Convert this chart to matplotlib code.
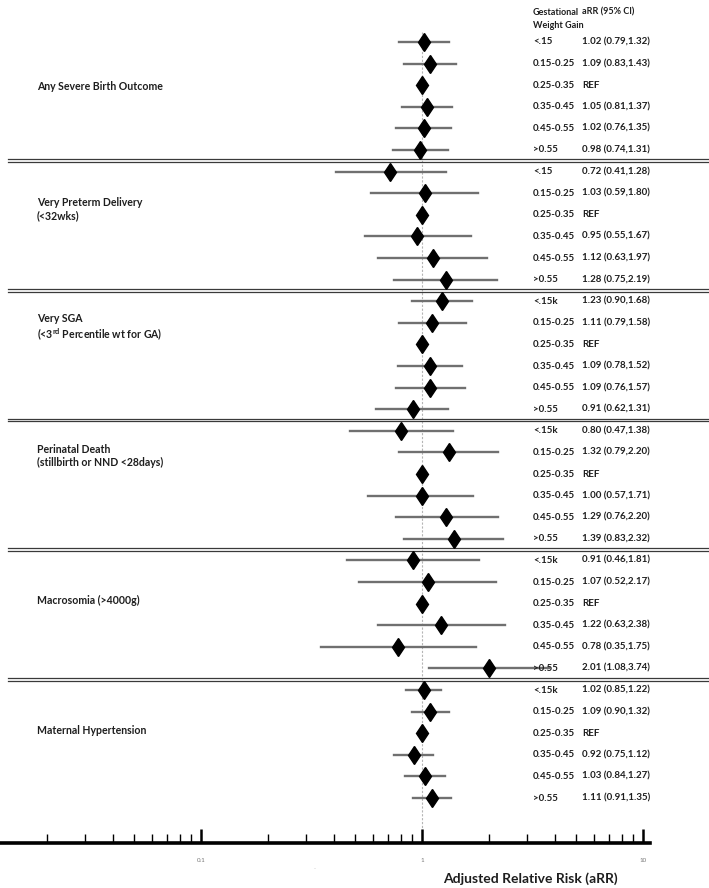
import matplotlib.pyplot as plt
import matplotlib.transforms as mtransforms

plt.rcParams['font.family'] = ['Lato', 'DejaVu Sans']
plt.rcParams['mathtext.fontset'] = 'custom'
plt.rcParams['mathtext.rm'] = 'Lato:bold'

# data
outcomes = ['Any Severe Birth Outcome',
            'Very Preterm Delivery\n(<32wks)',
            'Very SGA\n(<3$^{\\mathrm{rd}}$ Percentile wt for GA)',
            'Perinatal Death\n(stillbirth or NND <28days)',
            'Macrosomia (>4000g)',
            'Maternal Hypertension']
gain_a = ['<.15', '0.15-0.25', '0.25-0.35', '0.35-0.45', '0.45-0.55', '>0.55']
gain_b = ['<.15k', '0.15-0.25', '0.25-0.35', '0.35-0.45', '0.45-0.55', '>0.55']
gain_labels = [gain_a, gain_a, gain_b, gain_b, gain_b, gain_b]
rr = [[1.02, 1.09, 1.00, 1.05, 1.02, 0.98],
      [0.72, 1.03, 1.00, 0.95, 1.12, 1.28],
      [1.23, 1.11, 1.00, 1.09, 1.09, 0.91],
      [0.80, 1.32, 1.00, 1.00, 1.29, 1.39],
      [0.91, 1.07, 1.00, 1.22, 0.78, 2.01],
      [1.02, 1.09, 1.00, 0.92, 1.03, 1.11]]
lo = [[0.79, 0.83, None, 0.81, 0.76, 0.74],
      [0.41, 0.59, None, 0.55, 0.63, 0.75],
      [0.90, 0.79, None, 0.78, 0.76, 0.62],
      [0.47, 0.79, None, 0.57, 0.76, 0.83],
      [0.46, 0.52, None, 0.63, 0.35, 1.08],
      [0.85, 0.90, None, 0.75, 0.84, 0.91]]
hi = [[1.32, 1.43, None, 1.37, 1.35, 1.31],
      [1.28, 1.80, None, 1.67, 1.97, 2.19],
      [1.68, 1.58, None, 1.52, 1.57, 1.31],
      [1.38, 2.20, None, 1.71, 2.20, 2.32],
      [1.81, 2.17, None, 2.38, 1.75, 3.74],
      [1.22, 1.32, None, 1.12, 1.27, 1.35]]

W, H = 709, 888
x_one, decade = 422, 221          # pixel of RR=1 and pixels per decade
xmin = 10 ** (-x_one / decade)
xmax = 10 ** ((W - x_one) / decade)
row0, step = 42, 21.6
label_y = [87, 209, 328, 456, 600, 730]

fig = plt.figure(figsize=(W / 100, H / 100), dpi=100)
ax = fig.add_axes([0, 0, 1, 1])
ax.set_xscale('log')
ax.set_xlim(xmin, xmax)
ax.set_ylim(H, 0)
ax.axis('off')
tr = mtransforms.blended_transform_factory(ax.transAxes, ax.transData)

ax.plot([1, 1], [32, 838], color='#b5b5b5', lw=0.8, ls=(0, (2, 1.5)))

txt_col = '#1e1e1e'
fs = 7.0
ax.text(533 / W, 19, 'Gestational\nWeight Gain', transform=tr, fontsize=6.5,
        fontweight='bold', color=txt_col, va='center', ha='left', linespacing=1.5)
ax.text(582 / W, 12, 'aRR (95% CI)', transform=tr, fontsize=6.5,
        fontweight='bold', color=txt_col, va='center', ha='left')

k = 0
for g, name in enumerate(outcomes):
    ys = []
    for i in range(6):
        y = row0 + step * k
        ys.append(y)
        if lo[g][i] is not None:
            ax.plot([lo[g][i], hi[g][i]], [y, y], color='#707070', lw=1.7, zorder=2)
            s = '%.2f (%.2f,%.2f)' % (rr[g][i], lo[g][i], hi[g][i])
        else:
            s = 'REF'
        ax.plot(rr[g][i], y, marker='d', ms=9.5, color='black', mec='black', zorder=3)
        ax.text(533 / W, y, gain_labels[g][i], transform=tr, fontsize=fs,
                fontweight='bold', color=txt_col, va='center', ha='left')
        ax.text(582 / W, y, s, transform=tr, fontsize=fs,
                fontweight='bold', color=txt_col, va='center', ha='left')
        k += 1
    ax.text(37 / W, label_y[g], name, transform=tr, fontsize=7.6, fontweight='bold',
            color=txt_col, va='center', ha='left', linespacing=1.2)
    if g < len(outcomes) - 1:
        ysep = ys[-1] + step / 2
        for d in (-1.4, 1.4):
            ax.plot([8 / W, 1], [ysep + d, ysep + d], transform=tr,
                    color='#3a3a3a', lw=0.9)

# bottom axis
ax2 = fig.add_axes([0, (H - 843) / H, 650 / W, 0.03])
ax2.set_xscale('log')
ax2.set_xlim(xmin, 10 ** ((650 - x_one) / decade))
ax2.set_ylim(0, 1)
for sp in ['top', 'left', 'right']:
    ax2.spines[sp].set_visible(False)
ax2.spines['bottom'].set_linewidth(2.6)
ax2.patch.set_alpha(0)
ax2.set_yticks([])
ax2.set_xticks([0.1, 1, 10])
ax2.set_xticklabels(['0.1', '1', '10'])
ax2.tick_params(axis='x', which='major', direction='in', length=10, width=1.8,
                labelsize=4.5, labelcolor='#777777', pad=11)
ax2.tick_params(axis='x', which='minor', direction='in', length=6.5, width=1.0)

fig.text(315 / W, 1 - 869 / H, '...', fontsize=3, color='#999999', ha='center')
fig.text(530 / W, 1 - 879 / H, 'Adjusted Relative Risk (aRR)', fontsize=10,
         fontweight='bold', color=txt_col, ha='center', va='center')

fig.savefig('out.png', dpi=100)
